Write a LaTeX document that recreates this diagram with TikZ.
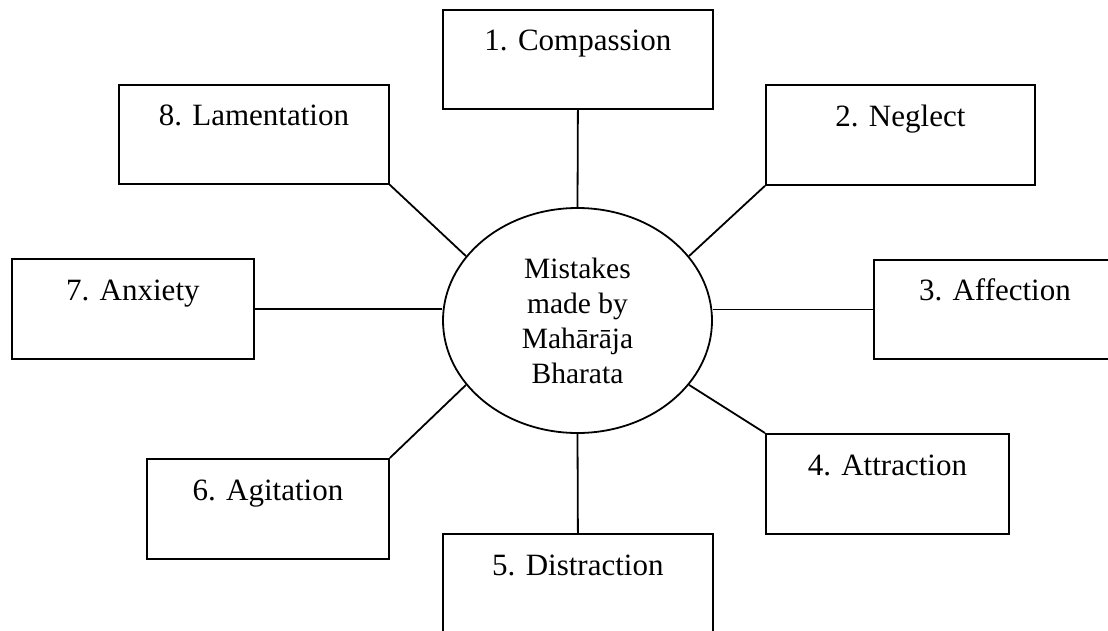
\documentclass[tikz,border=0pt]{standalone}
\usepackage{fontspec}
\setmainfont{Liberation Serif}
\usetikzlibrary{shapes.geometric}

\begin{document}
\begin{tikzpicture}[x=1pt,y=-1pt,
  line width=1.8pt,
  stepbox/.style={draw, rectangle, anchor=north west, inner sep=0pt,
    text height=41pt, text depth=58pt,
    font=\fontsize{31}{37}\selectfont},
  hub/.style={draw, ellipse, inner sep=0pt, align=center,
    minimum width=269pt, minimum height=225pt,
    font=\fontsize{29.5}{35}\selectfont},
  link/.style={draw, line width=1.8pt}]
  \clip (0,0) rectangle (1108,630);
  \fill[white] (0,0) rectangle (1108,630);

  % central ellipse
  \node[hub] (hub) at (577.5,320.5) {Mistakes\\made by\\Mahārāja\\Bharata};

  % the eight surrounding boxes
  \node[stepbox, minimum width=270pt, minimum height=99pt]  (b1) at (442,9)   {1. Compassion};
  \node[stepbox, minimum width=269pt, minimum height=100pt] (b2) at (765,84)  {2. Neglect};
  \node[stepbox, minimum width=242pt, minimum height=99pt]  (b3) at (873,259) {3. Affection};
  \node[stepbox, minimum width=243pt, minimum height=100pt] (b4) at (765,433) {4. Attraction};
  \node[stepbox, minimum width=270pt, minimum height=100pt] (b5) at (442,533) {5. Distraction};
  \node[stepbox, minimum width=242pt, minimum height=100pt] (b6) at (146,458) {6. Agitation};
  \node[stepbox, minimum width=242pt, minimum height=100pt] (b7) at (11,258)  {7. Anxiety};
  \node[stepbox, minimum width=270pt, minimum height=99pt]  (b8) at (118,84)  {8. Lamentation};

  % spokes
  \draw[link] (b1.south) -- (hub.north);
  \draw[link] (b2.south west) -- (hub.30);
  \draw[link] (b3.west) -- (b3.west -| hub.east);
  \draw[link] (b4.north west) -- (hub.-30);
  \draw[link] (b5.north) -- (hub.south);
  \draw[link] (b6.north east) -- (hub.-150);
  \draw[link] (b7.east) -- (b7.east -| hub.west);
  \draw[link] (b8.south east) -- (hub.150);
\end{tikzpicture}
\end{document}
